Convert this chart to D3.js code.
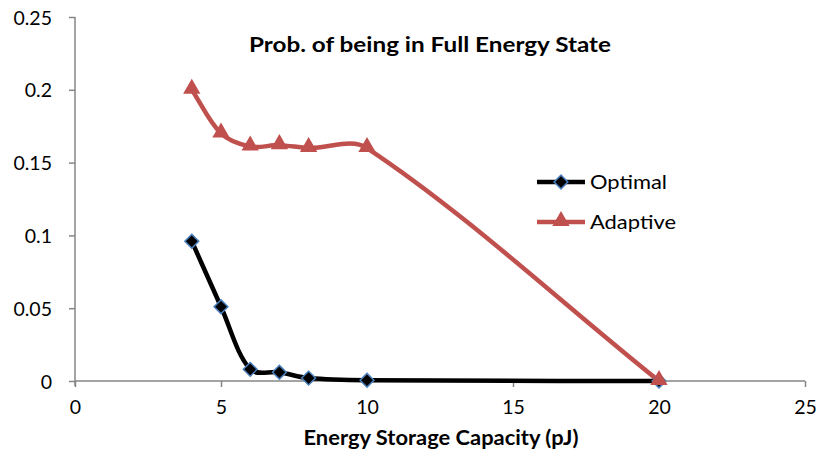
<!DOCTYPE html>
<html>
<head>
<meta charset="utf-8">
<script src="https://cdn.jsdelivr.net/npm/d3@7"></script>
<style>
  body { margin: 0; background: #fff; }
  text { font-family: Lato, "Open Sans", sans-serif; }
</style>
</head>
<body>
<svg id="chart" width="818" height="465"></svg>
<script>
const xValues = [4, 5, 6, 7, 8, 10, 20];
const optimalValues = [0.096, 0.051, 0.008, 0.006, 0.002, 0.0005, 0];
const adaptiveValues = [0.2, 0.17, 0.161, 0.162, 0.16, 0.16, 0];
const xTicks = [0, 5, 10, 15, 20, 25];
const yTicks = [0, 0.05, 0.1, 0.15, 0.2, 0.25];
const seriesNames = ["Optimal", "Adaptive"];
const chartTitle = "Prob. of being in Full Energy State";
const xAxisTitle = "Energy Storage Capacity (pJ)";

// Excel-like smoothed curve (tangent weighted by neighbouring chord lengths)
function ExcelSmooth(context) { this._context = context; }
ExcelSmooth.prototype = {
  areaStart() {}, areaEnd() {},
  lineStart() { this._pts = []; },
  point(x, y) { this._pts.push([+x, +y]); },
  lineEnd() {
    const p = this._pts, c = this._context, n = p.length;
    if (!n) return;
    c.moveTo(p[0][0], p[0][1]);
    if (n === 1) return;
    const dist = (a, b) => Math.hypot(b[0] - a[0], b[1] - a[1]);
    const outC = [], inC = [];
    for (let i = 0; i < n; i++) {
      if (i === 0) {
        outC[i] = [p[0][0] + (p[1][0] - p[0][0]) / 3, p[0][1] + (p[1][1] - p[0][1]) / 3];
      } else if (i === n - 1) {
        inC[i] = [p[i][0] - (p[i][0] - p[i - 1][0]) / 3, p[i][1] - (p[i][1] - p[i - 1][1]) / 3];
      } else {
        const tx = p[i + 1][0] - p[i - 1][0], ty = p[i + 1][1] - p[i - 1][1];
        const d1 = dist(p[i - 1], p[i]), d2 = dist(p[i], p[i + 1]), s = d1 + d2 || 1;
        inC[i] = [p[i][0] - tx * d1 / s / 3, p[i][1] - ty * d1 / s / 3];
        outC[i] = [p[i][0] + tx * d2 / s / 3, p[i][1] + ty * d2 / s / 3];
      }
    }
    for (let i = 1; i < n; i++) {
      c.bezierCurveTo(outC[i - 1][0], outC[i - 1][1], inC[i][0], inC[i][1], p[i][0], p[i][1]);
    }
  }
};
const curveExcel = ctx => new ExcelSmooth(ctx);

const svg = d3.select("#chart");
const x = d3.scaleLinear().domain([0, 25]).range([75, 805]);
const y = d3.scaleLinear().domain([0, 0.25]).range([381, 17]);
const axisColor = "#868686";

// Y axis
const yAxis = svg.append("g").attr("transform", "translate(75,0)")
  .call(d3.axisLeft(y).tickValues(yTicks).tickSize(6).tickPadding(17)
    .tickFormat(d => d === 0 ? "0" : String(+d.toFixed(2))));
yAxis.select(".domain").attr("stroke", axisColor).attr("stroke-width", 1.5)
  .attr("d", "M0,17V386");
yAxis.selectAll(".tick line").attr("stroke", axisColor).attr("stroke-width", 1.5);
yAxis.selectAll(".tick text").attr("font-size", 19.5).attr("fill", "#000")
  .attr("font-family", "Lato, sans-serif").attr("dy", "0.36em");

// X axis
const xAxis = svg.append("g").attr("transform", "translate(0,381)")
  .call(d3.axisBottom(x).tickValues(xTicks).tickSize(6).tickPadding(13)
    .tickFormat(d3.format("d")));
xAxis.select(".domain").attr("stroke", axisColor).attr("stroke-width", 1.5)
  .attr("d", "M75,0H805");
xAxis.selectAll(".tick line").attr("stroke", axisColor).attr("stroke-width", 1.5);
xAxis.selectAll(".tick text").attr("font-size", 19.5).attr("fill", "#000")
  .attr("font-family", "Lato, sans-serif");

const line = d3.line().x(d => x(d[0])).y(d => y(d[1])).curve(curveExcel);

const optData = xValues.map((v, i) => [v, optimalValues[i]]);
const adpData = xValues.map((v, i) => [v, adaptiveValues[i]]);

const red = "#C0504D";
const blue = "#4A7EBB";

svg.append("path").datum(adpData).attr("d", line)
  .attr("fill", "none").attr("stroke", red).attr("stroke-width", 4.5).attr("stroke-linejoin", "round");
svg.append("path").datum(optData).attr("d", line)
  .attr("fill", "none").attr("stroke", "#000").attr("stroke-width", 4.5).attr("stroke-linejoin", "round");

const tri = d3.symbol().type(d3.symbolTriangle).size(130);
const sq = d3.symbol().type(d3.symbolSquare).size(95);

svg.selectAll(".opt").data(optData).join("path")
  .attr("d", sq)
  .attr("transform", d => `translate(${x(d[0])},${y(d[1])}) rotate(45)`)
  .attr("fill", "#000").attr("stroke", blue).attr("stroke-width", 1.5);

svg.selectAll(".adp").data(adpData).join("path")
  .attr("transform", d => `translate(${x(d[0])},${y(d[1]) - 1})`)
  .attr("d", tri).attr("fill", red);

// Title
svg.append("text").attr("x", 430).attr("y", 52).attr("text-anchor", "middle")
  .attr("font-size", 20.5).attr("font-weight", "bold")
  .attr("textLength", 362).attr("lengthAdjust", "spacingAndGlyphs").text(chartTitle);

// X axis title
svg.append("text").attr("x", 441).attr("y", 445).attr("text-anchor", "middle")
  .attr("font-size", 20).attr("font-weight", "bold")
  .attr("textLength", 275).attr("lengthAdjust", "spacingAndGlyphs").text(xAxisTitle);

// Legend
const legend = [
  { name: seriesNames[0], color: "#000", y: 182, sym: "diamond" },
  { name: seriesNames[1], color: red, y: 222, sym: "tri" }
];
legend.forEach(l => {
  svg.append("line").attr("x1", 537).attr("x2", 585).attr("y1", l.y).attr("y2", l.y)
    .attr("stroke", l.color).attr("stroke-width", 4.5);
  if (l.sym === "diamond") {
    svg.append("path").attr("d", sq)
      .attr("transform", `translate(561,${l.y}) rotate(45)`)
      .attr("fill", "#000").attr("stroke", blue).attr("stroke-width", 1.5);
  } else {
    svg.append("path").attr("d", tri).attr("transform", `translate(561,${l.y - 1})`).attr("fill", red);
  }
  svg.append("text").attr("x", 590).attr("y", l.y + 7).attr("font-size", 20)
    .attr("textLength", l.name === "Optimal" ? 77 : 86).attr("lengthAdjust", "spacingAndGlyphs")
    .text(l.name);
});
</script>
</body>
</html>
